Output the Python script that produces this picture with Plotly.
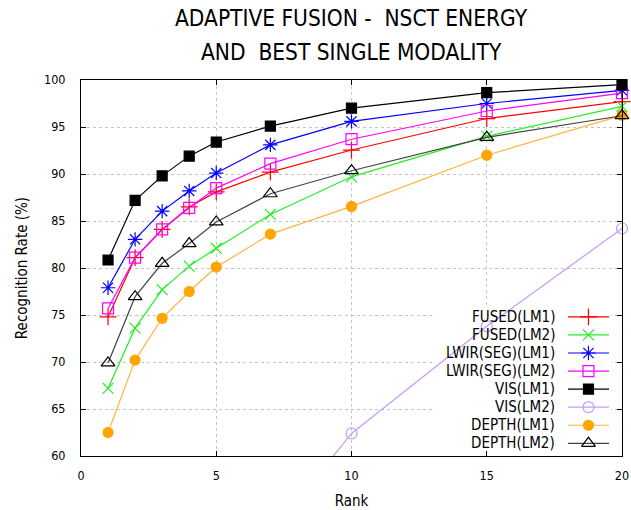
import plotly.graph_objects as go

ranks = [1, 2, 3, 4, 5, 7, 10, 15, 20]
fused_lm1 = [74.8, 81.1, 84.1, 86.5, 88.1, 90.2, 92.55, 95.9, 97.7]
fused_lm2 = [67.2, 73.6, 77.7, 80.2, 82.1, 85.7, 89.7, 94.0, 97.2]
lwir_lm1 = [77.9, 83.05, 86.05, 88.2, 90.1, 93.1, 95.6, 97.5, 98.9]
lwir_lm2 = [75.7, 81.1, 84.1, 86.4, 88.5, 91.1, 93.7, 96.7, 98.6]
vis_lm1 = [80.85, 87.2, 89.8, 91.9, 93.4, 95.1, 97.0, 98.65, 99.5]
vis_lm2 = [None, None, None, None, None, 51.7, 62.4, 73.8, 84.2]
depth_lm1 = [62.5, 70.2, 74.65, 77.5, 80.1, 83.6, 86.55, 92.0, 96.25]
depth_lm2 = [69.9, 76.95, 80.5, 82.6, 84.9, 87.9, 90.35, 93.9, 96.2]

x_ticks = [0, 5, 10, 15, 20]
y_ticks = [60, 65, 70, 75, 80, 85, 90, 95, 100]

FONT = "DejaVu Sans Condensed, DejaVu Sans, sans-serif"

series = [
    ("FUSED(LM1)", fused_lm1, "#ff0000", "#ff0000", "cross-thin-open", 12),
    ("FUSED(LM2)", fused_lm2, "#22ee22", "#22ee22", "x-thin-open", 11),
    ("LWIR(SEG)(LM1)", lwir_lm1, "#0000ff", "#0000ff", "asterisk-open", 12),
    ("LWIR(SEG)(LM2)", lwir_lm2, "#ff00ff", "#ff00ff", "square-open", 11),
    ("VIS(LM1)", vis_lm1, "#000000", "#000000", "square", 10),
    ("VIS(LM2)", vis_lm2, "#c49cf5", "#c49cf5", "circle-open", 11),
    ("DEPTH(LM1)", depth_lm1, "#ffa500", "#ffb340", "circle", 10),
    ("DEPTH(LM2)", depth_lm2, "#000000", "#444444", "triangle-up-open", 12),
]

fig = go.Figure()

for name, vals, mcol, lcol, sym, sz in series:
    fig.add_trace(go.Scatter(
        x=ranks, y=vals, mode="lines+markers", name=name,
        line=dict(color=lcol, width=1.2),
        marker=dict(symbol=sym, size=sz, color=mcol,
                    line=dict(color=mcol, width=1.2)),
        cliponaxis=False, showlegend=False, connectgaps=False,
    ))

# custom gnuplot-style legend (text, then sample)
for i, (name, vals, mcol, lcol, sym, sz) in enumerate(series):
    fig.add_trace(go.Scatter(
        x=[0, 1], y=[i, i], mode="lines", xaxis="x2", yaxis="y2",
        line=dict(color=lcol, width=1.2), showlegend=False, hoverinfo="skip",
    ))
    fig.add_trace(go.Scatter(
        x=[0.5], y=[i], mode="markers", xaxis="x2", yaxis="y2",
        marker=dict(symbol=sym, size=sz, color=mcol,
                    line=dict(color=mcol, width=1.2)),
        showlegend=False, hoverinfo="skip",
    ))
    fig.add_annotation(
        text=name, xref="paper", yref="y2", x=0.880, y=i,
        xanchor="right", yanchor="middle", showarrow=False,
        font=dict(family=FONT, size=15, color="#000000"),
    )

# white legend background covering the grid
fig.add_shape(type="rect", xref="x", yref="y", x0=13.1, x1=19.6, y0=60.3, y1=76.1,
              fillcolor="white", line=dict(width=0), layer="between")

fig.add_annotation(text="ADAPTIVE FUSION -\u00a0 NSCT ENERGY", xref="paper", yref="paper",
                   x=0.5, y=1.0, yshift=62, showarrow=False, xanchor="center", yanchor="middle",
                   font=dict(family=FONT, size=22.5, color="#000000"))
fig.add_annotation(text="AND\u00a0 BEST SINGLE MODALITY", xref="paper", yref="paper",
                   x=0.5, y=1.0, yshift=28, showarrow=False, xanchor="center", yanchor="middle",
                   font=dict(family=FONT, size=22.5, color="#000000"))

axis_common = dict(
    showline=True, linecolor="#000000", linewidth=1, mirror="ticks",
    ticks="inside", ticklen=5, tickcolor="#000000",
    showgrid=True, gridcolor="#c4c4c4", griddash="dot", gridwidth=1,
    zeroline=False, tickfont=dict(family=FONT, size=12.5, color="#000000"),
    automargin=False,
)

fig.update_layout(
    width=631, height=510,
    margin=dict(l=81, r=9, t=80, b=54),
    paper_bgcolor="white", plot_bgcolor="white",
    xaxis=dict(range=[0, 20], tickvals=x_ticks, ticklabelstandoff=8,
               title=dict(text="Rank", font=dict(family=FONT, size=15, color="#000000"), standoff=14),
               **axis_common),
    yaxis=dict(range=[60, 100], tickvals=y_ticks, ticklabelstandoff=12,
               title=dict(text="Recognition Rate (%)", font=dict(family=FONT, size=15, color="#000000"), standoff=12),
               **axis_common),
    xaxis2=dict(domain=[0.900, 0.976], range=[0, 1], visible=False, anchor="y2", fixedrange=True),
    yaxis2=dict(domain=[0.0098, 0.394], range=[7.5, -0.5], visible=False, anchor="x2", fixedrange=True),
    showlegend=False,
)

fig.write_html("out.html")
